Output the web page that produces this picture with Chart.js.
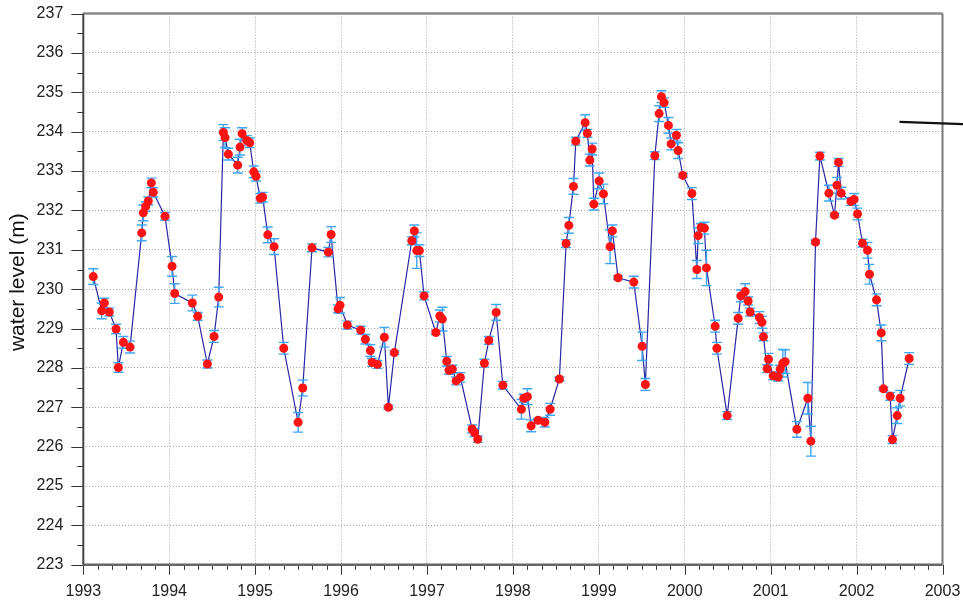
<!DOCTYPE html>
<html><head><meta charset="utf-8">
<script src="https://cdn.jsdelivr.net/npm/chart.js@4.4.1/dist/chart.umd.min.js"></script>
<style>html,body{margin:0;padding:0;background:#fff}#wrap{width:963px;height:606px;position:relative}</style>
</head><body><div id="wrap"><canvas id="c"></canvas></div>
<script>
const years = [
1993.116,1993.214,1993.245,1993.303,1993.381,1993.408,1993.466,1993.544,1993.680,1993.698,
1993.726,1993.757,1993.792,1993.815,1993.951,1994.033,1994.064,1994.269,1994.332,1994.444,
1994.522,1994.576,1994.630,1994.650,1994.688,1994.797,1994.824,1994.848,1994.902,1994.937,
1994.984,1995.010,1995.060,1995.088,1995.147,1995.220,1995.333,1995.500,1995.554,1995.662,
1995.852,1995.884,1995.965,1995.988,1996.073,1996.229,1996.283,1996.341,1996.361,1996.423,
1996.504,1996.551,1996.620,1996.823,1996.853,1996.881,1996.912,1996.966,1997.103,1997.149,
1997.179,1997.230,1997.257,1997.296,1997.339,1997.389,1997.525,1997.552,1997.591,1997.668,
1997.720,1997.805,1997.883,1998.099,1998.127,1998.169,1998.212,1998.293,1998.371,1998.433,
1998.541,1998.619,1998.651,1998.705,1998.732,1998.841,1998.867,1998.895,1998.922,1998.942,
1999.004,1999.054,1999.131,1999.158,1999.224,1999.407,1999.504,1999.542,1999.652,1999.702,
1999.729,1999.760,1999.810,1999.842,1999.903,1999.923,1999.978,2000.083,2000.141,2000.156,
2000.191,2000.229,2000.253,2000.354,2000.374,2000.494,2000.622,2000.653,2000.703,2000.738,
2000.761,2000.870,2000.898,2000.916,2000.959,2000.975,2001.029,2001.087,2001.110,2001.142,
2001.169,2001.305,2001.433,2001.468,2001.522,2001.573,2001.678,2001.743,2001.771,2001.790,
2001.821,2001.934,2001.972,2002.011,2002.069,2002.127,2002.150,2002.232,2002.287,2002.313,
2002.391,2002.418,2002.473,2002.507,2002.612];
const levels = [
230.32,229.45,229.65,229.42,228.99,228.01,228.65,228.53,231.43,231.94,
232.10,232.24,232.70,232.46,231.85,230.58,229.89,229.65,229.31,228.10,
228.80,229.80,233.98,233.85,233.43,233.15,233.61,233.95,233.78,233.72,
232.98,232.87,232.31,232.34,231.38,231.08,228.50,226.62,227.49,231.05,
230.94,231.39,229.50,229.59,229.09,228.96,228.73,228.44,228.14,228.09,
228.78,227.00,228.39,231.23,231.48,230.98,230.98,229.83,228.90,229.32,
229.24,228.17,227.94,227.97,227.67,227.76,226.45,226.36,226.19,228.12,
228.70,229.41,227.56,226.95,227.23,227.27,226.53,226.67,226.62,226.95,
227.72,231.16,231.62,232.61,233.76,234.23,233.96,233.28,233.56,232.16,
232.75,232.42,231.08,231.48,230.29,230.18,228.55,227.58,233.39,234.46,
234.89,234.74,234.16,233.69,233.91,233.52,232.89,232.43,230.50,231.36,
231.57,231.55,230.54,229.06,228.50,226.79,229.26,229.83,229.94,229.70,
229.42,229.28,229.16,228.79,227.98,228.22,227.80,227.77,227.97,228.12,
228.16,226.44,227.23,226.14,231.20,233.38,232.44,231.88,232.64,233.22,
232.44,232.23,232.28,231.91,231.17,230.99,230.38,229.73,228.89,227.47,
227.28,226.18,226.79,227.23,228.24];
const errors = [
0.20,0.20,0.12,0.10,0.12,0.12,0.15,0.15,0.20,0.20,
0.12,0.10,0.12,0.12,0.10,0.25,0.25,0.20,0.10,0.10,
0.15,0.25,0.20,0.25,0.15,0.20,0.20,0.15,0.12,0.12,
0.15,0.12,0.12,0.12,0.20,0.20,0.15,0.25,0.20,0.10,
0.12,0.20,0.10,0.20,0.10,0.10,0.12,0.15,0.10,0.10,
0.25,0.05,0.05,0.10,0.15,0.45,0.15,0.10,0.05,0.15,
0.30,0.12,0.10,0.10,0.10,0.12,0.10,0.10,0.08,0.10,
0.10,0.20,0.10,0.25,0.10,0.20,0.15,0.05,0.12,0.15,
0.05,0.10,0.20,0.20,0.10,0.20,0.10,0.15,0.15,0.15,
0.20,0.25,0.43,0.15,0.05,0.15,0.36,0.15,0.10,0.20,
0.15,0.12,0.20,0.15,0.15,0.20,0.05,0.15,0.23,0.20,
0.10,0.15,0.45,0.15,0.15,0.10,0.15,0.15,0.20,0.10,
0.10,0.15,0.15,0.10,0.10,0.15,0.10,0.10,0.10,0.35,
0.30,0.20,0.40,0.38,0.05,0.10,0.20,0.05,0.20,0.10,
0.15,0.10,0.15,0.15,0.10,0.20,0.25,0.15,0.20,0.05,
0.10,0.10,0.20,0.20,0.15];
const xTicks = [1993,1994,1995,1996,1997,1998,1999,2000,2001,2002,2003];
const yTicks = [223,224,225,226,227,228,229,230,231,232,233,234,235,236,237];
const yTitle = 'water level (m)';
const annotX = [2002.50, 2003.25];
const annotY = [234.25, 234.19];

const pts = years.map((x, i) => ({x: x, y: levels[i]}));

const decor = {
  id: 'decor',
  afterDatasetDraw(chart, args) {
    if (args.index !== 1) return;
    const ctx = chart.ctx, xs = chart.scales.x, ys = chart.scales.y;
    ctx.save();
    ctx.strokeStyle = '#3ea6f2';
    ctx.lineWidth = 1.4;
    for (let i = 0; i < years.length; i++) {
      const px = xs.getPixelForValue(years[i]);
      const y1 = ys.getPixelForValue(levels[i] + errors[i]);
      const y2 = ys.getPixelForValue(levels[i] - errors[i]);
      ctx.beginPath();
      ctx.moveTo(px, y1); ctx.lineTo(px, y2);
      ctx.moveTo(px - 5, y1); ctx.lineTo(px + 5, y1);
      ctx.moveTo(px - 5, y2); ctx.lineTo(px + 5, y2);
      ctx.stroke();
    }
    ctx.restore();
  },
  afterDraw(chart) {
    const ctx = chart.ctx, a = chart.chartArea, xs = chart.scales.x, ys = chart.scales.y;
    ctx.save();
    ctx.strokeStyle = '#333';
    ctx.lineWidth = 1;
    ctx.beginPath();
    for (let v = yTicks[0]; v <= yTicks[yTicks.length - 1] + 1e-9; v += 0.5) {
      const py = Math.round(ys.getPixelForValue(v)) + 0.5;
      const major = Math.abs(v - Math.round(v)) < 1e-6;
      ctx.moveTo(a.left - (major ? 12 : 6), py); ctx.lineTo(a.left, py);
    }
    for (let k = 0; k <= (xTicks[xTicks.length - 1] - xTicks[0]) * 6; k++) {
      const v = xTicks[0] + k / 6;
      const px = Math.round(xs.getPixelForValue(v)) + 0.5;
      const major = k % 6 === 0;
      ctx.moveTo(px, a.bottom); ctx.lineTo(px, a.bottom + (major ? 10 : 5));
    }
    ctx.stroke();
    ctx.lineWidth = 2.5; ctx.strokeStyle = '#8a8a8a';
    ctx.beginPath(); ctx.moveTo(a.left, a.top); ctx.lineTo(a.right, a.top); ctx.stroke();
    ctx.lineWidth = 2; ctx.strokeStyle = '#7a7a7a';
    ctx.beginPath(); ctx.moveTo(a.right, a.top); ctx.lineTo(a.right, a.bottom); ctx.stroke();
    ctx.lineWidth = 2.5; ctx.strokeStyle = '#666';
    ctx.beginPath(); ctx.moveTo(a.left, a.bottom); ctx.lineTo(a.right, a.bottom); ctx.stroke();
    ctx.lineWidth = 2; ctx.strokeStyle = '#444';
    ctx.beginPath(); ctx.moveTo(a.left, a.top); ctx.lineTo(a.left, a.bottom); ctx.stroke();
    ctx.lineWidth = 2.2; ctx.strokeStyle = '#111';
    ctx.beginPath();
    ctx.moveTo(xs.getPixelForValue(annotX[0]), ys.getPixelForValue(annotY[0]));
    ctx.lineTo(xs.getPixelForValue(annotX[1]), ys.getPixelForValue(annotY[1]));
    ctx.stroke();
    // y-axis title
    ctx.translate(18, (a.top + a.bottom) / 2 - 7);
    ctx.rotate(-Math.PI / 2);
    ctx.fillStyle = '#111';
    ctx.font = '21px "Liberation Sans", Arial, sans-serif';
    ctx.textAlign = 'center';
    ctx.textBaseline = 'middle';
    ctx.fillText(yTitle, 0, 0);
    ctx.restore();
  }
};

Chart.defaults.font.family = '"Liberation Sans", Arial, sans-serif';
new Chart(document.getElementById('c'), {
  type: 'scatter',
  data: {
    datasets: [
      {data: pts, showLine: false, pointRadius: 4.5, pointHoverRadius: 4.5,
       backgroundColor: '#ff1212', borderWidth: 0, order: 0},
      {data: pts, showLine: true, pointRadius: 0, borderColor: '#2626a6',
       borderWidth: 1.2, tension: 0, order: 1}
    ]
  },
  options: {
    responsive: true, maintainAspectRatio: false, animation: false,
    devicePixelRatio: 1,
    layout: {padding: {top: 13.6, right: 20.5, left: 0, bottom: 0}},
    plugins: {legend: {display: false}, tooltip: {enabled: false}},
    scales: {
      x: {
        type: 'linear', min: xTicks[0], max: xTicks[xTicks.length - 1],
        afterBuildTicks: s => { s.ticks = xTicks.map(v => ({value: v})); },
        afterFit: s => { s.height = 41.2; s.paddingLeft = 0; s.paddingRight = 0; s.paddingTop = 0; s.paddingBottom = 0; },
        ticks: {callback: v => String(v), color: '#222', font: {size: 16}, padding: 17, maxRotation: 0, autoSkip: false},
        grid: {color: '#a8a8a8', lineWidth: 1, drawTicks: false},
        border: {display: false, dash: [1, 2]}
      },
      y: {
        type: 'linear', min: yTicks[0], max: yTicks[yTicks.length - 1],
        afterBuildTicks: s => { s.ticks = yTicks.map(v => ({value: v})); },
        afterFit: s => { s.width = 83.3; s.paddingLeft = 0; s.paddingRight = 0; s.paddingTop = 0; s.paddingBottom = 0; },
        ticks: {callback: v => String(v), color: '#222', font: {size: 16}, padding: 20},
        grid: {color: '#a8a8a8', lineWidth: 1, drawTicks: false},
        border: {display: false, dash: [1, 2]}
      }
    }
  },
  plugins: [decor]
});
</script>
</body></html>
